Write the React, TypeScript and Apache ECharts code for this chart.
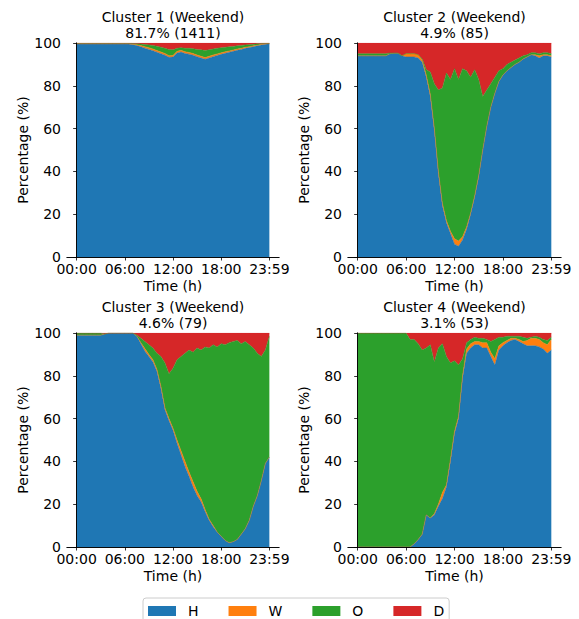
import React, { useEffect, useRef } from 'react';
import * as echarts from 'echarts';

const TIME_MIN = [0, 30, 60, 90, 120, 150, 180, 210, 240, 270, 300, 330, 360, 390, 420, 450, 480, 510, 540, 570, 600, 630, 660, 690, 720, 750, 780, 810, 840, 870, 900, 930, 960, 990, 1020, 1050, 1080, 1110, 1140, 1170, 1200, 1230, 1260, 1290, 1320, 1350, 1380, 1410, 1439];
const TICK_VALUES = [0, 360, 720, 1080, 1439];
const TICK_LABELS = ['00:00', '06:00', '12:00', '18:00', '23:59'];
const CATEGORIES = ['H', 'W', 'O', 'D'];
const COLORS = ['#1f77b4', '#ff7f0e', '#2ca02c', '#d62728'];
const TITLES = ['Cluster 1 (Weekend)', 'Cluster 2 (Weekend)', 'Cluster 3 (Weekend)', 'Cluster 4 (Weekend)'];
const SUBTITLES = ['81.7% (1411)', '4.9% (85)', '4.6% (79)', '3.1% (53)'];

// Cluster 1
const C1_H = [99.5, 99.5, 99.5, 99.5, 99.5, 99.5, 99.5, 99.5, 99.5, 99.5, 99.5, 99.5, 99.5, 99.5, 99.2, 98.8, 98.2, 97.6, 97.0, 96.4, 95.7, 95.0, 94.3, 93.3, 93.4, 95.3, 95.8, 95.1, 94.8, 94.3, 93.6, 93.0, 92.4, 93.0, 93.6, 94.2, 94.7, 95.2, 95.7, 96.1, 96.6, 97.0, 97.5, 97.9, 98.3, 98.7, 99.1, 99.4, 99.6];
const C1_W = [0.1, 0.1, 0.1, 0.1, 0.1, 0.1, 0.1, 0.1, 0.1, 0.1, 0.1, 0.1, 0.1, 0.1, 0.2, 0.4, 0.6, 0.7, 0.8, 0.8, 0.8, 0.8, 0.8, 0.8, 0.8, 0.8, 0.8, 0.8, 0.8, 0.8, 0.8, 0.8, 0.8, 0.8, 0.8, 0.7, 0.7, 0.7, 0.6, 0.6, 0.6, 0.5, 0.5, 0.4, 0.4, 0.3, 0.3, 0.2, 0.1];
const C1_O = [0.3, 0.3, 0.3, 0.3, 0.3, 0.3, 0.3, 0.3, 0.3, 0.3, 0.3, 0.3, 0.3, 0.3, 0.4, 0.5, 0.7, 1.0, 1.3, 1.6, 2.0, 2.2, 2.4, 2.9, 2.6, 1.4, 1.2, 1.6, 1.9, 2.2, 2.6, 3.0, 3.3, 3.0, 2.8, 2.6, 2.4, 2.1, 1.9, 1.7, 1.5, 1.3, 1.1, 0.9, 0.7, 0.6, 0.4, 0.3, 0.2];
const C1_D = [0.1, 0.1, 0.1, 0.1, 0.1, 0.1, 0.1, 0.1, 0.1, 0.1, 0.1, 0.1, 0.1, 0.1, 0.2, 0.3, 0.5, 0.7, 0.9, 1.2, 1.5, 2.0, 2.5, 3.0, 3.2, 2.5, 2.2, 2.5, 2.5, 2.7, 3.0, 3.2, 3.5, 3.2, 2.8, 2.5, 2.2, 2.0, 1.8, 1.6, 1.3, 1.2, 0.9, 0.8, 0.6, 0.4, 0.2, 0.1, 0.1];

// Cluster 2
const C2_H = [94, 94, 94, 94, 94, 94, 94, 94, 95, 95.2, 95.2, 94, 93.5, 93.5, 93.5, 93, 91, 84, 75, 59, 39, 24, 16, 11, 6, 5, 8, 13, 20, 28, 37.5, 50, 61, 70, 76.5, 82, 85, 87, 88.5, 90, 91, 92.5, 93.5, 94.5, 94, 93, 94, 94, 93.5];
const C2_W = [0, 0, 0, 0, 0, 0, 0, 0, 0, 0, 0, 0, 1.5, 1.5, 1.5, 1.5, 1, 1, 1, 1, 1, 1, 1, 1, 2.5, 2.5, 1.5, 1, 0.5, 0.5, 0.5, 0, 0, 0, 0, 0, 0, 0, 0, 0, 0, 0, 0, 0, 0.5, 1, 0.5, 0.5, 0.5];
const C2_O = [1, 1, 1, 1, 1, 1, 1, 1, 0.3, 0, 0, 0, 0, 0, 0, 0, 0.5, 2.5, 10.5, 21, 38, 54, 69, 71, 79.5, 75.5, 78.5, 73, 63.5, 59, 45, 25, 17, 11, 7.5, 5, 3, 3, 2.5, 2, 2, 1.5, 1, 1, 1, 1, 1, 1, 1];
const C2_D = [5, 5, 5, 5, 5, 5, 5, 5, 4.7, 4.8, 4.8, 6, 5, 5, 5, 5.5, 7.5, 12.5, 13.5, 19, 22, 21, 14, 17, 12, 17, 12, 13, 16, 12.5, 17, 25, 22, 19, 16, 13, 12, 10, 9, 8, 7, 6, 5.5, 4.5, 4.5, 5, 4.5, 4.5, 5];

// Cluster 3
const C3_H = [99, 99, 99, 99, 99, 99, 99, 99.5, 100, 100, 100, 100, 100, 100, 100, 98.5, 95, 91.5, 89, 86.5, 82, 74, 64, 59, 54.5, 48.5, 43, 37.5, 33, 28, 24, 21, 16.5, 12.5, 9.5, 7, 5, 3, 2, 2.5, 3.5, 6, 8.5, 12.5, 19, 24, 31, 39, 42];
const C3_W = [0, 0, 0, 0, 0, 0, 0, 0, 0, 0, 0, 0, 0, 0, 0, 0, 0.5, 1.2, 1, 1, 1, 1, 1, 1, 1, 1.5, 2, 2.5, 2, 2.5, 2, 1.5, 1, 0.5, 0.5, 0, 0, 0, 0, 0, 0, 0, 0, 0, 0, 0, 0, 0, 0];
const C3_O = [1, 1, 1, 1, 1, 1, 1, 0, 0, 0, 0, 0, 0, 0, 0, 0.5, 2, 3.3, 4.5, 5.5, 7.5, 14, 21, 21, 28, 37.5, 44, 50.5, 57, 60.5, 67, 69.5, 76, 80, 84.5, 86.5, 90, 91.5, 93.5, 93.5, 93, 89, 87.5, 82, 74, 66.5, 58, 53, 56.5];
const C3_D = [0, 0, 0, 0, 0, 0, 0, 0.5, 0, 0, 0, 0, 0, 0, 0, 1.0, 2.5, 4, 5.5, 7, 9.5, 11, 14, 19, 16.5, 12.5, 11, 9.5, 8, 9, 7, 8, 6.5, 7, 5.5, 6.5, 5, 5.5, 4.5, 4, 3.5, 5, 4, 5.5, 7, 9.5, 11, 8, 1.5];

// Cluster 4
const C4_H = [0, 0, 0, 0, 0, 0, 0, 0, 0, 0, 0, 0, 0, 0, 1.5, 3.5, 6, 15, 13.5, 15, 19, 22.5, 28, 40, 53, 60, 79, 90.5, 93, 94.5, 94.5, 93, 93, 89, 85, 92, 94, 95.5, 96.5, 97, 96, 95, 94, 94, 94, 93.5, 92.5, 90.5, 92];
const C4_W = [0, 0, 0, 0, 0, 0, 0, 0, 0, 0, 0, 0, 0, 0, 0, 0, 0, 0, 0, 0.5, 1, 3, 1, 1, 1, 1, 1, 2, 2, 1.5, 1.5, 2.5, 2.5, 2, 3, 2, 1.5, 1, 1, 0.5, 1, 1, 2.5, 3.5, 3.5, 3.5, 3, 4, 5];
const C4_O = [100, 100, 100, 100, 100, 100, 100, 100, 100, 100, 100, 100, 100, 97, 95.5, 91.5, 86, 78, 81, 71, 73, 69.5, 60, 45, 33, 24, 8, 3, 2, 2, 1.5, 2, 1.5, 5, 9, 4, 2.5, 2, 1, 1, 1.5, 2, 1, 0.5, 1, 1, 1.5, 2, 1];
const C4_D = [0, 0, 0, 0, 0, 0, 0, 0, 0, 0, 0, 0, 0, 3, 3, 5, 8, 7, 5.5, 13.5, 7, 5, 11, 14, 13, 15, 12, 4.5, 3, 2, 2.5, 2.5, 3, 4, 3, 2, 2, 1.5, 1.5, 1.5, 1.5, 2, 2.5, 2, 1.5, 2, 3, 3.5, 2];

const CLUSTERS = [
  [C1_H, C1_W, C1_O, C1_D],
  [C2_H, C2_W, C2_O, C2_D],
  [C3_H, C3_W, C3_O, C3_D],
  [C4_H, C4_W, C4_O, C4_D],
];

const FONT = 'DejaVu Sans';
const GRIDS = [
  { left: 67, top: 43, width: 212, height: 214 },
  { left: 348, top: 43, width: 213, height: 214 },
  { left: 67, top: 333, width: 212, height: 214 },
  { left: 348, top: 333, width: 213, height: 214 },
];
// matplotlib-style 5% margins on the time axis
const X_MIN = -71.95;
const X_MAX = 1510.95;

function buildOption() {
  const grid: any[] = [];
  const xAxis: any[] = [];
  const yAxis: any[] = [];
  const series: any[] = [];
  const graphic: any[] = [];
  const frameLine = { show: true, lineStyle: { color: '#000', width: 0.8 } };
  const span = X_MAX - X_MIN;
  GRIDS.forEach((g) => grid.push({ ...g, show: false }));
  // inner data grids (the stacked areas span exactly 00:00..23:59)
  GRIDS.forEach((g) => {
    const l = g.left + (g.width * (0 - X_MIN)) / span;
    const w = (g.width * (TIME_MIN[TIME_MIN.length - 1] - 0)) / span;
    grid.push({ left: l, top: g.top, width: w, height: g.height, show: false });
  });
  GRIDS.forEach((g, i) => {
    xAxis.push({
      gridIndex: i, type: 'value', min: X_MIN, max: X_MAX, z: 10,
      axisLine: frameLine,
      axisTick: { show: true, length: 3.5, lineStyle: { color: '#000', width: 0.8 }, customValues: TICK_VALUES },
      axisLabel: {
        customValues: TICK_VALUES, color: '#000', fontSize: 14, fontFamily: FONT, margin: 5,
        formatter: (v: number) => { const k = TICK_VALUES.indexOf(Math.round(v)); return k >= 0 ? TICK_LABELS[k] : ''; },
      },
      splitLine: { show: false },
      name: 'Time (h)', nameLocation: 'middle', nameGap: 22,
      nameTextStyle: { color: '#000', fontSize: 14, fontFamily: FONT },
    });
    xAxis.push({
      gridIndex: i, type: 'value', min: X_MIN, max: X_MAX, position: 'top', z: 10,
      axisLine: frameLine, axisTick: { show: false }, axisLabel: { show: false }, splitLine: { show: false },
    });
    xAxis.push({
      gridIndex: 4 + i, type: 'category', boundaryGap: false, data: TIME_MIN.map(String), show: false,
    });
    yAxis.push({
      gridIndex: i, type: 'value', min: 0, max: 100, interval: 20, z: 10,
      axisLine: frameLine,
      axisTick: { show: true, length: 3.5, lineStyle: { color: '#000', width: 0.8 } },
      axisLabel: { color: '#000', fontSize: 14, fontFamily: FONT, margin: 6 },
      splitLine: { show: false },
      name: 'Percentage (%)', nameLocation: 'middle', nameGap: 31, nameRotate: 90,
      nameTextStyle: { color: '#000', fontSize: 14, fontFamily: FONT },
    });
    yAxis.push({
      gridIndex: i, type: 'value', min: 0, max: 100, position: 'right', z: 10,
      axisLine: frameLine, axisTick: { show: false }, axisLabel: { show: false }, splitLine: { show: false },
    });
    yAxis.push({
      gridIndex: 4 + i, type: 'value', min: 0, max: 100, show: false, splitLine: { show: false },
    });
    CATEGORIES.forEach((name, k) => {
      const arr = CLUSTERS[i][k];
      series.push({
        type: 'line', name, xAxisIndex: 3 * i + 2, yAxisIndex: 3 * i + 2, stack: 'c' + i,
        symbol: 'none', silent: true, z: 2,
        lineStyle: { width: 0.5, color: COLORS[k] },
        itemStyle: { color: COLORS[k] },
        areaStyle: { color: COLORS[k], opacity: 1 },
        emphasis: { disabled: true },
        data: arr,
      });
    });
    const cx = g.left + g.width / 2;
    const baseY = g.top - 26;
    graphic.push({
      type: 'text', x: cx, y: baseY, silent: true,
      style: { text: TITLES[i], textAlign: 'center', textVerticalAlign: 'middle', fill: '#000', font: `14px "${FONT}"` },
    });
    graphic.push({
      type: 'text', x: cx, y: baseY + 16, silent: true,
      style: { text: SUBTITLES[i], textAlign: 'center', textVerticalAlign: 'middle', fill: '#000', font: `14px "${FONT}"` },
    });
  });
  return {
    animation: false,
    backgroundColor: '#fff',
    textStyle: { fontFamily: FONT },
    grid, xAxis, yAxis, series, graphic,
    legend: {
      data: CATEGORIES, left: 143, top: 598, orient: 'horizontal',
      itemWidth: 28, itemHeight: 10, itemGap: 30, icon: 'rect',
      borderColor: '#cccccc', borderWidth: 1, borderRadius: 3,
      padding: [6, 5, 8, 5], backgroundColor: '#fff',
      selectedMode: false,
      textStyle: { fontSize: 14, color: '#000', fontFamily: FONT, padding: [0, 0, 0, 7] },
    },
  };
}

export default function App() {
  const ref = useRef<HTMLDivElement>(null);
  useEffect(() => {
    document.body.style.margin = '0';
    if (!ref.current) return;
    const chart = echarts.init(ref.current, undefined, { renderer: 'svg' });
    chart.setOption(buildOption() as any);
    return () => chart.dispose();
  }, []);
  return <div ref={ref} style={{ width: 579, height: 619 }} />;
}
